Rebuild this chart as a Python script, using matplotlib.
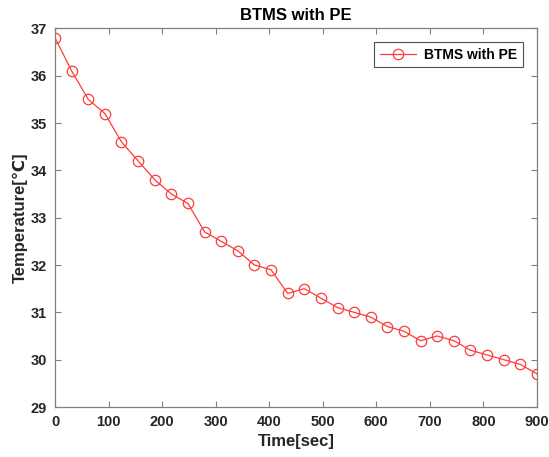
import numpy as np
import matplotlib
matplotlib.use("Agg")
import matplotlib.pyplot as plt

plt.rcParams['font.family'] = ['Liberation Sans', 'DejaVu Sans']

time_sec = np.linspace(0, 900, 30)
temperature = [36.8, 36.1, 35.5, 35.2, 34.6, 34.2, 33.8, 33.5, 33.3, 32.7,
               32.5, 32.3, 32.0, 31.9, 31.4, 31.5, 31.3, 31.1, 31.0, 30.9,
               30.7, 30.6, 30.4, 30.5, 30.4, 30.2, 30.1, 30.0, 29.9, 29.7]
series_label = "BTMS with PE"
x_ticks = list(range(0, 901, 100))
y_ticks = list(range(29, 38))

fig = plt.figure(figsize=(5.49, 4.57), dpi=100)
ax = fig.add_axes([0.1002, 0.1094, 0.8778, 0.8286])
ax.plot(time_sec, temperature, color='#ff3b3b', lw=0.9, marker='o',
        markersize=7.5, markerfacecolor='none', markeredgecolor='#ff3b3b',
        markeredgewidth=0.9, label=series_label)

ax.set_xlim(0, 900)
ax.set_ylim(29, 37)
ax.set_xticks(x_ticks)
ax.set_yticks(y_ticks)
ax.tick_params(direction='in', top=True, right=True, length=4, width=0.8,
               colors='#808080', labelcolor='#262626', labelsize=10.5, pad=6)
for lbl in ax.get_xticklabels() + ax.get_yticklabels():
    lbl.set_fontweight('bold')
for s in ax.spines.values():
    s.set_color('#808080')
    s.set_linewidth(0.9)

ax.set_xlabel("Time[sec]", fontsize=12, fontweight='bold', color='#262626', labelpad=3)
ax.set_ylabel("Temperature[℃]", fontsize=12, fontweight='bold', color='#262626', labelpad=2)
ax.set_title("BTMS with PE", fontsize=12, fontweight='bold', color='#000000', pad=6)

leg = ax.legend(loc='upper right', fontsize=10, frameon=True, fancybox=False,
                borderpad=0.4, handlelength=2.6, handletextpad=0.6, borderaxespad=1.0)
leg.get_frame().set_edgecolor('#262626')
leg.get_frame().set_linewidth(0.8)
for t in leg.get_texts():
    t.set_fontweight('bold')
    t.set_color('#000000')

fig.savefig("out.png", dpi=100)
